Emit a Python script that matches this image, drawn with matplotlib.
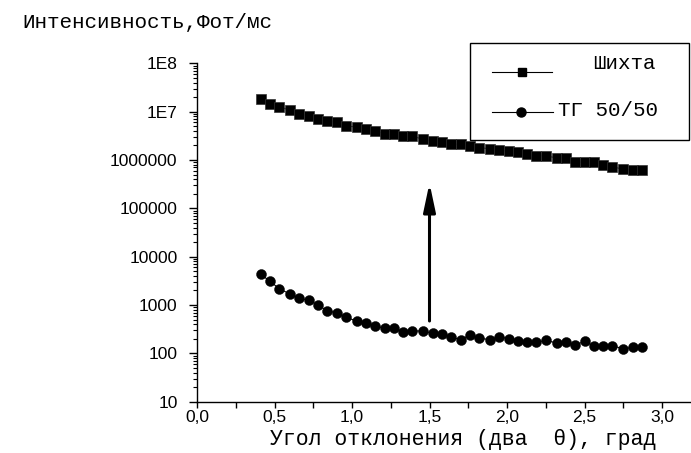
import numpy as np
import matplotlib
matplotlib.use("Agg")
import matplotlib.pyplot as plt
from matplotlib.lines import Line2D
from matplotlib.patches import Rectangle

mono = ['Liberation Mono', 'DejaVu Sans Mono']
sans = ['Liberation Sans', 'DejaVu Sans']

# angle, grad (last value is the line tail, drawn without a marker)
angle = [0.41, 0.47, 0.53, 0.60, 0.66, 0.72, 0.78, 0.84, 0.90, 0.96,
         1.03, 1.09, 1.15, 1.21, 1.27, 1.33, 1.39, 1.46, 1.52, 1.58,
         1.64, 1.70, 1.76, 1.82, 1.89, 1.95, 2.01, 2.07, 2.13, 2.19,
         2.25, 2.32, 2.38, 2.44, 2.50, 2.56, 2.62, 2.68, 2.75, 2.81,
         2.87, 2.90]

shikhta = [1.80e7, 1.42e7, 1.25e7, 1.08e7, 9.06e6, 8.13e6, 6.95e6, 6.31e6, 6.02e6, 4.97e6,
           4.88e6, 4.37e6, 3.92e6, 3.50e6, 3.40e6, 3.09e6, 3.09e6, 2.68e6, 2.47e6, 2.32e6,
           2.11e6, 2.11e6, 1.95e6, 1.80e6, 1.71e6, 1.61e6, 1.51e6, 1.44e6, 1.33e6, 1.23e6,
           1.21e6, 1.11e6, 1.10e6, 9.2e5, 8.96e5, 9.2e5, 7.98e5, 7.26e5, 6.41e5, 6.2e5,
           6.2e5, 6.7e5]

tg5050 = [4315, 3133, 2173, 1690, 1376, 1268, 1000, 762, 693, 557,
          467, 425, 368, 334, 330, 281, 290, 290, 261, 248,
          221, 191, 239, 208, 191, 221, 201, 177, 169, 169,
          186, 164, 169, 149, 177, 143, 143, 143, 125, 133,
          133, 128]

# arrow: from low curve up to high curve at 1.5 grad
arrow_x = 1.5
arrow_from = 467
arrow_to = 3.34e5

yticks = [10, 100, 1000, 10000, 100000, 1000000, 1e7, 1e8]
ytick_labels = ['10', '100', '1000', '10000', '100000', '1000000', '1E7', '1E8']
xticks = [0.0, 0.5, 1.0, 1.5, 2.0, 2.5, 3.0]
xtick_labels = ['0,0', '0,5', '1,0', '1,5', '2,0', '2,5', '3,0']

W, H = 691, 453
fig = plt.figure(figsize=(W / 100, H / 100), dpi=100)
ax = fig.add_axes([197 / W, (H - 401.7) / H, (W - 197) / W, (401.7 - 63.3) / H])

n = len(angle) - 1
ax.plot(angle, shikhta, color='k', lw=0.8, marker='s', ms=6.5, mfc='k', mec='#333333',
        mew=0.5, markevery=slice(0, n))
ax.plot(angle, tg5050, color='k', lw=0.8, marker='o', ms=7.2, mfc='k', mec='k',
        mew=0.3, markevery=slice(0, n))

ax.annotate('', xy=(arrow_x, arrow_to), xytext=(arrow_x, arrow_from),
            arrowprops=dict(arrowstyle='-|>,head_length=1.7,head_width=0.36',
                            lw=2.2, color='k', shrinkA=0, shrinkB=0))

ax.set_yscale('log')
ax.set_ylim(10, 1e8)
ax.set_xlim(0, (W - 197) / 155)
ax.set_yticks(yticks)
ax.set_yticklabels(ytick_labels)
ax.set_xticks(xticks)
ax.set_xticklabels(xtick_labels)
ax.set_xticks([0.25, 0.75, 1.25, 1.75, 2.25, 2.75], minor=True)

for s in ['top', 'right']:
    ax.spines[s].set_visible(False)
for s in ['left', 'bottom']:
    ax.spines[s].set_linewidth(1.0)

ax.tick_params(axis='y', which='major', direction='out', length=6, width=1, pad=8)
ax.tick_params(axis='y', which='minor', direction='out', length=3, width=0.8)
ax.tick_params(axis='x', which='both', direction='out', length=4, width=1, pad=2)
for lab in ax.get_xticklabels() + ax.get_yticklabels():
    lab.set_family(sans)
    lab.set_fontsize(12.5)

# titles
fig.text(22 / W, 1 - 23 / H, 'Интенсивность,Фот/мс', family=mono, fontsize=15,
         ha='left', va='center')
fig.text(270 / W, 1 - 440 / H, 'Угол отклонения (два  θ), град', family=mono,
         fontsize=15.5, ha='left', va='center')

# hand-made legend box
fig.patches.append(Rectangle((470 / W, 1 - 140 / H), 219 / W, 97.3 / H,
                             transform=fig.transFigure, fill=False, ec='k', lw=1.0))
fig.lines.append(Line2D([491.7 / W, 551.7 / W], [1 - 71.7 / H] * 2, transform=fig.transFigure,
                        color='k', lw=0.8))
fig.lines.append(Line2D([521.7 / W], [1 - 71.7 / H], transform=fig.transFigure,
                        marker='s', ms=6, color='k'))
fig.lines.append(Line2D([491.7 / W, 553 / W], [1 - 111.7 / H] * 2, transform=fig.transFigure,
                        color='k', lw=0.8))
fig.lines.append(Line2D([520.7 / W], [1 - 111.7 / H], transform=fig.transFigure,
                        marker='o', ms=6.5, color='k'))
fig.text(593 / W, 1 - 63.3 / H, 'Шихта', family=mono, fontsize=15, ha='left', va='center')
fig.text(558 / W, 1 - 110 / H, 'ТГ 50/50', family=mono, fontsize=15, ha='left', va='center')

fig.savefig('out.png', dpi=100)
